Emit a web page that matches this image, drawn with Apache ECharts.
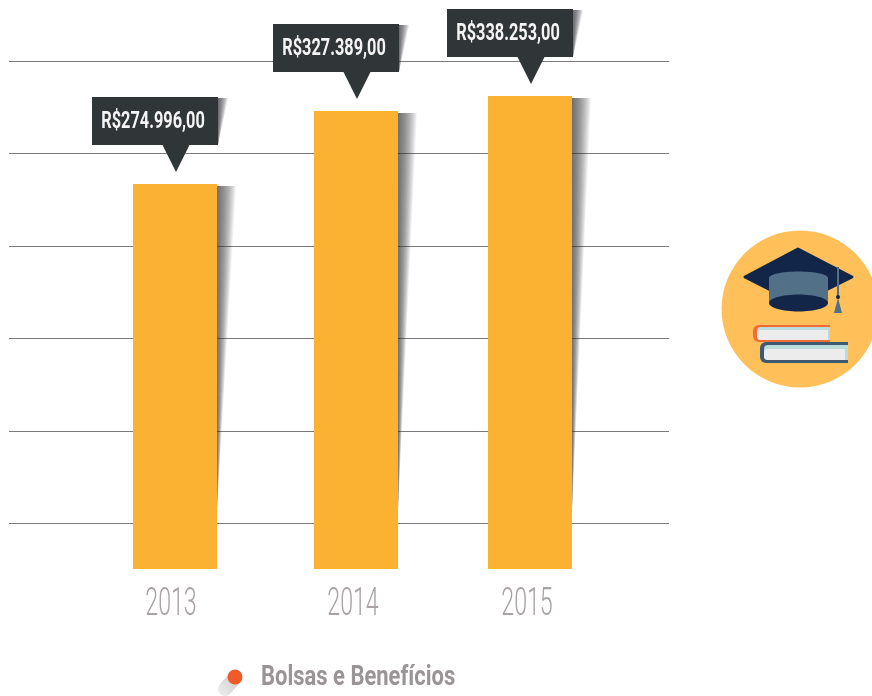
<!DOCTYPE html>
<html><head><meta charset="utf-8">
<style>html,body{margin:0;padding:0;background:#fff}#c{width:872px;height:696px}</style>
<script src="https://cdn.jsdelivr.net/npm/echarts@6/dist/echarts.min.js"></script>
</head><body><div id="c"></div>
<script>
var years = ['2013', '2014', '2015'];
var values = [274996, 327389, 338253];
var seriesName = 'Bolsas e Benefícios';

var FONT = 'Roboto,"Liberation Sans",sans-serif';
var barNudge = [0, 3.5, 0];
var yearNudge = [-4, 0.5, -3];

function money(v) {
  return 'R$' + String(v).replace(/\B(?=(\d{3})+$)/g, '.') + ',00';
}
function fan(r, topY, endY, n, step, alpha) {
  var out = [];
  for (var k = n; k >= 1; k--) {
    out.push({ type: 'polygon', shape: { points: [[r, topY], [r + k * step, topY], [r, endY]] },
      style: { fill: 'rgba(50,50,56,' + alpha + ')' } });
  }
  return out;
}

function renderItem(params, api) {
  var i = params.dataIndex;
  var v = api.value(1);
  var top = api.coord([i, v]);
  var base = api.coord([i, 0]);
  var cx = top[0] + barNudge[i];
  var y = Math.round(top[1]);
  var l = cx - 42, r = cx + 42;
  var boxL = cx - 83, boxR = cx + 43, boxT = y - 87, boxB = y - 39, tipX = cx + 1, tipY = y - 12;
  var kids = [];
  kids = kids.concat(fan(r, y + 2, 510, 20, 0.95, 0.055));
  kids.push({ type: 'rect', shape: { x: l, y: y, width: 84, height: base[1] - y }, style: { fill: api.visual('color') } });
  kids = kids.concat(fan(boxR, boxT + 1, boxB, 10, 1, 0.11));
  kids.push(
    { type: 'rect', shape: { x: boxL, y: boxT, width: boxR - boxL, height: boxB - boxT }, style: { fill: '#303537' } },
    { type: 'polygon', shape: { points: [[tipX - 14, boxB - 1], [tipX + 14, boxB - 1], [tipX, tipY]] }, style: { fill: '#303537' } },
    { type: 'text', x: (boxL + boxR) / 2 - 2, y: (boxT + boxB) / 2 + 1, scaleX: 0.71,
      style: { text: money(v), x: 0, y: 0, align: 'center', verticalAlign: 'middle', fill: '#f4f4f4',
        font: 'bold 23px ' + FONT } },
    { type: 'text', x: top[0] + yearNudge[i], y: base[1] + 36.5, scaleX: 0.61,
      style: { text: years[i], x: 0, y: 0, align: 'center', verticalAlign: 'middle', fill: '#a8a2a4',
        font: '300 38px ' + FONT } }
  );
  return { type: 'group', children: kids };
}

var chart = echarts.init(document.getElementById('c'), null, { renderer: 'canvas' });
chart.setOption({
  animation: false,
  backgroundColor: '#fff',
  grid: [
    { left: 9, right: 203, top: 61.2, bottom: 172.8 },
    { left: 86.25, right: 253.25, top: 61, bottom: 127 }
  ],
  xAxis: [
    { gridIndex: 0, type: 'value', show: false, min: 0, max: 1, splitLine: { show: false } },
    { gridIndex: 1, type: 'category', data: years, axisLine: { show: false }, axisTick: { show: false },
      axisLabel: { show: false } }
  ],
  yAxis: [
    { gridIndex: 0, type: 'value', min: 0, max: 330000, interval: 66000,
      axisLine: { show: false }, axisTick: { show: false }, axisLabel: { show: false },
      splitLine: { show: true, lineStyle: { color: '#7b7b7b', width: 1 } } },
    { gridIndex: 1, type: 'value', min: 0, max: 363000,
      axisLine: { show: false }, axisTick: { show: false }, axisLabel: { show: false }, splitLine: { show: false } }
  ],
  series: [{
    name: seriesName, type: 'custom', xAxisIndex: 1, yAxisIndex: 1, clip: false, z: 3,
    itemStyle: { color: '#fbb232' },
    encode: { x: 0, y: 1 },
    renderItem: renderItem,
    data: years.map(function (y, i) { return [y, values[i]]; })
  }],
  graphic: [
    { type: 'polyline', z: 1, shape: { points: [[234, 679], [225, 689]] },
      style: { fill: null, stroke: new echarts.graphic.LinearGradient(1, 0, 0, 1, [
        { offset: 0, color: '#c4c4c4' }, { offset: 1, color: '#f0f0f0' }]), lineWidth: 14, lineCap: 'round' } },
    { type: 'circle', z: 2, shape: { cx: 235, cy: 677, r: 7.5 }, style: { fill: '#f15a29' } },
    { type: 'text', z: 2, x: 261, y: 678, scaleX: 0.785,
      style: { text: seriesName, x: 0, y: 0, align: 'left', verticalAlign: 'middle', fill: '#9a9496',
        font: 'bold 28px ' + FONT } },
    { type: 'circle', z: 1, shape: { cx: 800, cy: 309, r: 78.5 }, style: { fill: '#ffc05a' } },
    { type: 'polygon', z: 2, shape: { points: [[798, 249], [745, 277], [798, 304], [852, 277]] },
      style: { fill: '#12264a', stroke: '#12264a', lineWidth: 3, lineJoin: 'round' } },
    { type: 'ellipse', z: 3, shape: { cx: 798.5, cy: 278, rx: 29.5, ry: 6.5 }, style: { fill: '#537089' } },
    { type: 'rect', z: 3, shape: { x: 769, y: 278, width: 59, height: 25 }, style: { fill: '#537089' } },
    { type: 'ellipse', z: 4, shape: { cx: 798.5, cy: 303, rx: 29.5, ry: 8.5 }, style: { fill: '#12264a' } },
    { type: 'rect', z: 4, shape: { x: 837, y: 267, width: 2, height: 32 }, style: { fill: '#537089' } },
    { type: 'circle', z: 5, shape: { cx: 838, cy: 297, r: 2 }, style: { fill: '#12264a' } },
    { type: 'polygon', z: 4, shape: { points: [[834, 313], [842, 313], [838, 298]] }, style: { fill: '#537089' } },
    { type: 'rect', z: 3, shape: { x: 753, y: 325, width: 77, height: 17, r: [6, 0, 0, 6] }, style: { fill: '#f26c35' } },
    { type: 'rect', z: 4, shape: { x: 757, y: 327, width: 73, height: 13, r: [4, 0, 0, 4] }, style: { fill: '#b9dbdc' } },
    { type: 'rect', z: 5, shape: { x: 757, y: 330, width: 71, height: 10, r: [4, 0, 0, 4] }, style: { fill: '#ececec' } },
    { type: 'rect', z: 3, shape: { x: 760, y: 342, width: 88, height: 21, r: [6, 0, 0, 6] }, style: { fill: '#3e5a70' } },
    { type: 'rect', z: 4, shape: { x: 764, y: 345, width: 84, height: 15, r: [4, 0, 0, 4] }, style: { fill: '#b9dbdc' } },
    { type: 'rect', z: 5, shape: { x: 764, y: 349, width: 81, height: 11, r: [4, 0, 0, 4] }, style: { fill: '#ececec' } }
  ]
});
</script></body></html>
